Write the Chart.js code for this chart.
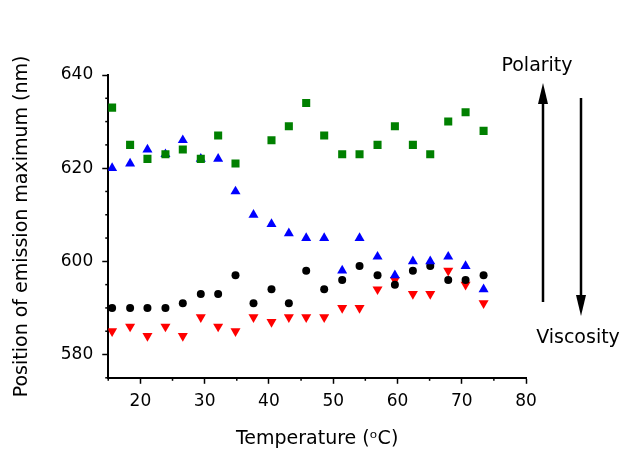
<!DOCTYPE html>
<html>
<head>
<meta charset="utf-8">
<script src="https://cdn.jsdelivr.net/npm/chart.js@4.4.1/dist/chart.umd.min.js"></script>
<style>
  html, body { margin: 0; padding: 0; background: #fff; }
  #wrap { width: 629px; height: 450px; }
</style>
</head>
<body>
<div id="wrap"><canvas id="myChart" width="629" height="450"></canvas></div>
<script>
// temperatures (ºC) shared by all four series
var temps = [15.6, 18.4, 21.1, 23.9, 26.6, 29.4, 32.1, 34.8, 37.6, 40.4, 43.1,
             45.8, 48.6, 51.4, 54.1, 56.9, 59.6, 62.4, 65.1, 67.9, 70.6, 73.4];

// emission maximum (nm), null = no point
var greenVals = [633, 625, 622, 623, 624, 622, 627, 621, null, 626, 629,
                 634, 627, 623, 623, 625, 629, 625, 623, 630, 632, 628];
var blueVals  = [620, 621, 624, 623, 626, 622, 622, 615, 610, 608, 606,
                 605, 605, 598, 605, 601, 597, 600, 600, 601, 599, 594];
var blackVals = [590, 590, 590, 590, 591, 593, 593, 597, 591, 594, 591,
                 598, 594, 596, 599, 597, 595, 598, 599, 596, 596, 597];
var redVals   = [585, 586, 584, 586, 584, 588, 586, 585, 588, 587, 588,
                 588, 588, 590, 590, 594, 596, 593, 593, 598, 595, 591];

var xTicks = [15, 20, 25, 30, 35, 40, 45, 50, 55, 60, 65, 70, 75, 80];
var yTicks = [575, 580, 585, 590, 595, 600, 605, 610, 615, 620, 625, 630, 635, 640];
var xLabels = [20, 30, 40, 50, 60, 70, 80];
var yLabels = [580, 600, 620, 640];

function toPoints(vals) {
    var pts = [];
    for (var i = 0; i < temps.length; i++) {
        if (vals[i] !== null) pts.push({ x: temps[i], y: vals[i] });
    }
    return pts;
}

var FONT = "'DejaVu Sans', Verdana, sans-serif";

// short minor ticks + the polarity / viscosity arrows
var extras = {
    id: 'extras',
    afterDraw: function (chart) {
        var ctx = chart.ctx;
        var xs = chart.scales.x, ys = chart.scales.y;
        ctx.save();
        ctx.strokeStyle = '#000';
        ctx.lineWidth = 1.5;
        xTicks.forEach(function (v) {
            if (xLabels.indexOf(v) >= 0) return;
            var px = xs.getPixelForValue(v);
            ctx.beginPath(); ctx.moveTo(px, xs.top); ctx.lineTo(px, xs.top + 3); ctx.stroke();
        });
        yTicks.forEach(function (v) {
            if (yLabels.indexOf(v) >= 0) return;
            var py = ys.getPixelForValue(v);
            ctx.beginPath(); ctx.moveTo(ys.right, py); ctx.lineTo(ys.right - 3, py); ctx.stroke();
        });

        function arrow(x, y1, y2) {
            var dir = y2 < y1 ? -1 : 1;
            ctx.lineWidth = 2.5;
            ctx.beginPath(); ctx.moveTo(x, y1); ctx.lineTo(x, y2 - dir * 18); ctx.stroke();
            ctx.beginPath();
            ctx.moveTo(x, y2);
            ctx.lineTo(x - 5, y2 - dir * 21);
            ctx.lineTo(x + 5, y2 - dir * 21);
            ctx.closePath();
            ctx.fill();
        }
        ctx.fillStyle = '#000';
        arrow(543, 302, 83);
        arrow(581, 98, 316);

        ctx.font = '19px ' + FONT;
        ctx.textAlign = 'center';
        ctx.textBaseline = 'middle';
        ctx.fillText('Polarity', 537, 66);
        ctx.fillText('Viscosity', 578, 338);
        ctx.restore();
    }
};

function ds(label, vals, color, style, rot, r) {
    return {
        label: label,
        data: toPoints(vals),
        backgroundColor: color,
        borderColor: color,
        borderWidth: 0,
        pointStyle: style,
        rotation: rot,
        pointRadius: r,
        showLine: false
    };
}

var ctx = document.getElementById('myChart').getContext('2d');
var chart = new Chart(ctx, {
    type: 'scatter',
    data: {
        datasets: [
            ds('green', greenVals, '#008000', 'rect', 0, 5.7),
            ds('blue', blueVals, '#0000ff', 'triangle', 0, 5.8),
            ds('black', blackVals, '#000000', 'circle', 0, 4),
            ds('red', redVals, '#ff0000', 'triangle', 180, 5.8)
        ]
    },
    options: {
        responsive: false,
        animation: false,
        layout: { padding: { top: 75, right: 103, left: 7, bottom: 0 } },
        plugins: { legend: { display: false }, tooltip: { enabled: false } },
        scales: {
            x: {
                type: 'linear',
                min: 15, max: 80,
                afterBuildTicks: function (s) { s.ticks = xTicks.map(function (v) { return { value: v }; }); },
                ticks: {
                    autoSkip: false, maxRotation: 0, padding: 8,
                    color: '#000', font: { family: FONT, size: 17 },
                    callback: function (v) { return xLabels.indexOf(v) >= 0 ? String(v) : ''; }
                },
                grid: {
                    drawOnChartArea: false, tickLength: 6, tickWidth: 1.5,
                    tickColor: function (c) { return c.tick && xLabels.indexOf(c.tick.value) >= 0 ? '#000' : 'rgba(0,0,0,0)'; }
                },
                border: { color: '#000', width: 2 },
                title: { display: true, text: 'Temperature (ᵒC)', color: '#000', font: { family: FONT, size: 19 }, padding: { top: 7, bottom: 0 } }
            },
            y: {
                type: 'linear',
                min: 575, max: 640,
                afterBuildTicks: function (s) { s.ticks = yTicks.map(function (v) { return { value: v }; }); },
                ticks: {
                    autoSkip: false, padding: 9,
                    color: '#000', font: { family: FONT, size: 17 },
                    callback: function (v) { return yLabels.indexOf(v) >= 0 ? String(v) : ''; }
                },
                grid: {
                    drawOnChartArea: false, tickLength: 6, tickWidth: 1.5,
                    tickColor: function (c) { return c.tick && yLabels.indexOf(c.tick.value) >= 0 ? '#000' : 'rgba(0,0,0,0)'; }
                },
                border: { color: '#000', width: 2 },
                title: { display: true, text: 'Position of emission maximum (nm)', color: '#000', font: { family: FONT, size: 19 }, padding: { top: 4, bottom: 18 } }
            }
        }
    },
    plugins: [extras]
});
</script>
</body>
</html>
